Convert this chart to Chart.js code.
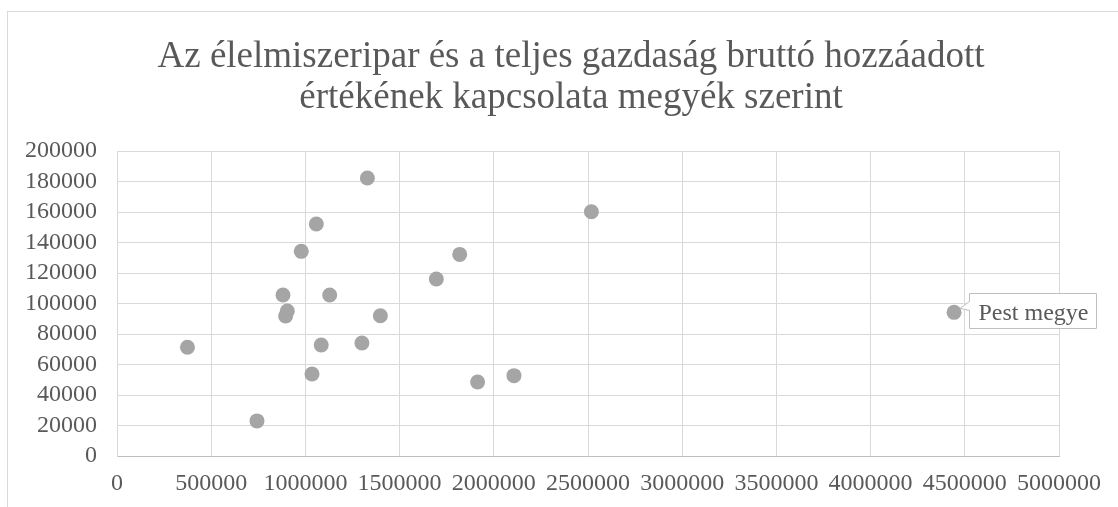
<!DOCTYPE html>
<html>
<head>
<meta charset="utf-8">
<script src="https://cdn.jsdelivr.net/npm/chart.js@4.4.1/dist/chart.umd.min.js"></script>
<style>
  html, body { margin: 0; padding: 0; background: #ffffff; }
  #wrap { position: relative; width: 1118px; height: 507px; }
</style>
</head>
<body>
<div id="wrap"><canvas id="c" width="1118" height="507"></canvas></div>
<script>
// Title lines
const titleLines = [
  "Az élelmiszeripar és a teljes gazdaság bruttó hozzáadott",
  "értékének kapcsolata megyék szerint"
];

// Teljes gazdaság bruttó hozzáadott értéke (x) per megye
const gdpTotal = [
  1329000, 1058000, 978000, 1695000, 881000, 1129000, 904000, 895000, 1398000,
  374000, 1084000, 1300000, 1035000, 743000, 1819000, 1914000, 2107000, 2518000,
  4443000
];
// Élelmiszeripar bruttó hozzáadott értéke (y) per megye
const foodIndustry = [
  182300, 152100, 134200, 116100, 105600, 105600, 95100, 91800, 92000,
  71300, 72800, 74100, 53800, 23000, 132200, 48500, 52700, 160200,
  94200
];
// Data labels (only one shown in the chart)
const pointLabels = [
  "", "", "", "", "", "", "", "", "",
  "", "", "", "", "", "", "", "", "",
  "Pest megye"
];

const xTicks = [0, 500000, 1000000, 1500000, 2000000, 2500000, 3000000, 3500000, 4000000, 4500000, 5000000];
const yTicks = [0, 20000, 40000, 60000, 80000, 100000, 120000, 140000, 160000, 180000, 200000];

const FONT = "'Liberation Serif', 'Times New Roman', serif";
const TEXT = "#595959";

const points = gdpTotal.map((x, i) => ({ x: x, y: foodIndustry[i] }));

const decorPlugin = {
  id: 'decor',
  beforeDraw(chart) {
    const ctx = chart.ctx;
    ctx.save();
    ctx.fillStyle = '#ffffff';
    ctx.fillRect(0, 0, chart.width, chart.height);
    ctx.strokeStyle = '#D9D9D9';
    ctx.lineWidth = 1;
    ctx.strokeRect(7.5, 11.5, 3000, 3000);
    ctx.fillStyle = TEXT;
    ctx.font = "37px " + FONT;
    ctx.textAlign = 'center';
    ctx.textBaseline = 'alphabetic';
    ctx.fillText(titleLines[0], 571, 67);
    ctx.fillText(titleLines[1], 571, 108);
    ctx.restore();
  },
  afterDatasetsDraw(chart) {
    const ctx = chart.ctx;
    const meta = chart.getDatasetMeta(0);
    pointLabels.forEach((lbl, i) => {
      if (!lbl) return;
      const el = meta.data[i];
      const px = el.x, py = el.y;
      ctx.save();
      ctx.font = "24px " + FONT;
      const tw = ctx.measureText(lbl).width;
      const left = Math.round(px + 15) + 0.5;
      const top = Math.round(py - 19) + 0.5;
      const w = Math.round(tw + 17);
      const h = 35;
      ctx.beginPath();
      ctx.moveTo(left, top);
      ctx.lineTo(left + w, top);
      ctx.lineTo(left + w, top + h);
      ctx.lineTo(left, top + h);
      ctx.lineTo(left, top + 17);
      ctx.lineTo(px + 6, py - 4);
      ctx.lineTo(left, top + 8);
      ctx.closePath();
      ctx.fillStyle = '#ffffff';
      ctx.fill();
      ctx.strokeStyle = '#BFBFBF';
      ctx.lineWidth = 1;
      ctx.stroke();
      ctx.fillStyle = TEXT;
      ctx.textAlign = 'left';
      ctx.textBaseline = 'alphabetic';
      ctx.fillText(lbl, left + 9, py + 8);
      ctx.restore();
    });
  }
};

new Chart(document.getElementById('c'), {
  type: 'scatter',
  data: {
    datasets: [{
      data: points,
      backgroundColor: '#A5A5A5',
      borderColor: '#A5A5A5',
      borderWidth: 0,
      pointRadius: 7.5,
      pointHoverRadius: 7.5
    }]
  },
  options: {
    responsive: false,
    animation: false,
    events: [],
    layout: { padding: { left: 0, right: 59, top: 151, bottom: 0 } },
    plugins: {
      legend: { display: false },
      title: { display: false },
      tooltip: { enabled: false }
    },
    scales: {
      x: {
        type: 'linear',
        min: 0, max: 5000000,
        afterBuildTicks: (axis) => { axis.ticks = xTicks.map(v => ({ value: v })); },
        afterFit: (axis) => { axis.height = 51; },
        grid: { color: '#D9D9D9', lineWidth: 1, drawTicks: false },
        border: { display: true, color: '#BFBFBF', width: 1 },
        ticks: {
          color: TEXT, padding: 13, maxRotation: 0, autoSkip: false,
          font: { family: FONT, size: 24 },
          callback: (v) => String(v)
        }
      },
      y: {
        type: 'linear',
        min: 0, max: 200000,
        afterBuildTicks: (axis) => { axis.ticks = yTicks.map(v => ({ value: v })); },
        afterFit: (axis) => { axis.width = 117; },
        grid: { color: '#D9D9D9', lineWidth: 1, drawTicks: false },
        border: { display: true, color: '#D9D9D9', width: 1 },
        ticks: {
          color: TEXT, padding: 20, autoSkip: false,
          font: { family: FONT, size: 24 },
          callback: (v) => String(v)
        }
      }
    }
  },
  plugins: [decorPlugin]
});
</script>
</body>
</html>
